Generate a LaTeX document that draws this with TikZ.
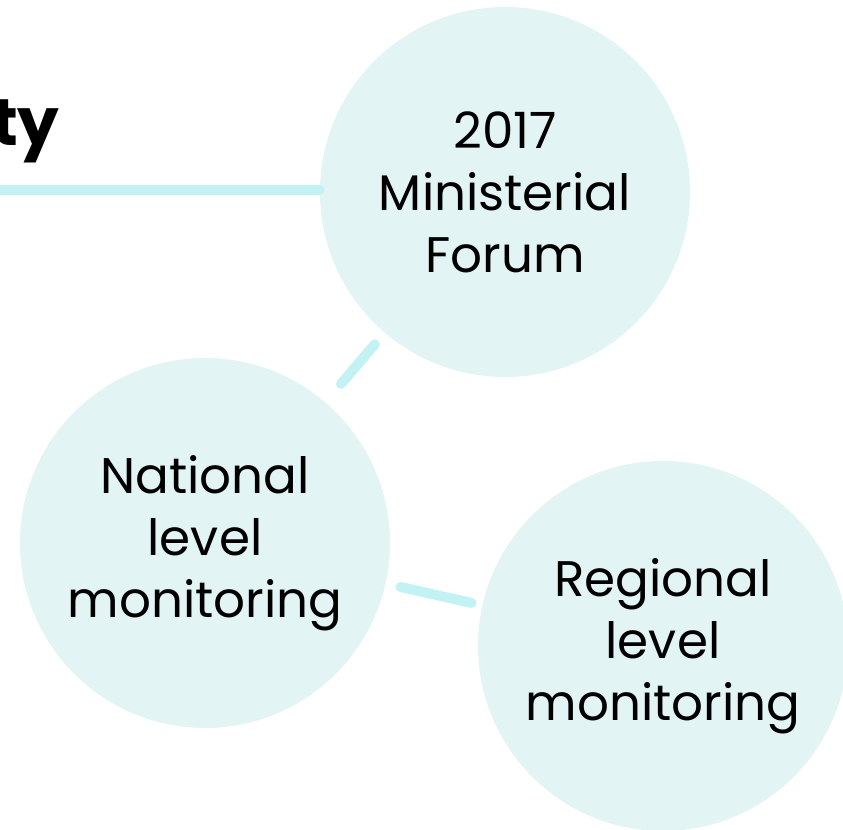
\documentclass[tikz,border=0pt]{standalone}
\usepackage{fontspec}
\setmainfont{Poppins}
\definecolor{bubble}{HTML}{E2F4F4}
\definecolor{link}{HTML}{C2F2F4}
\begin{document}
\begin{tikzpicture}[x=.5pt,y=-.5pt]
 \useasboundingbox (0,0) rectangle (843,830);
 \node (title) [anchor=base east, inner sep=0pt, font=\fontsize{33}{40}\selectfont\bfseries] at (60,145) {ty};
 \begin{scope}[every node/.style={circle, fill=bubble, minimum size=185pt, inner sep=0pt, align=center, font=\fontsize{25}{31}\selectfont}]
   \node (forum) at (505,192) {2017\\Ministerial\\Forum};
   \node (national) at (205,543) {National\\level\\monitoring};
   \node (regional) at (663,646) {Regional\\level\\monitoring};
 \end{scope}
 \coordinate (rule) at (0,190);
 \begin{scope}[line width=5pt, draw=link, line cap=round]
   \draw (rule) -- (rule -| forum.west);
   \draw [shorten <=7.5pt, shorten >=12pt] (forum) -- (national);
   \draw [shorten <=7.5pt, shorten >=5.5pt] (national) -- (regional);
 \end{scope}
\end{tikzpicture}
\end{document}
